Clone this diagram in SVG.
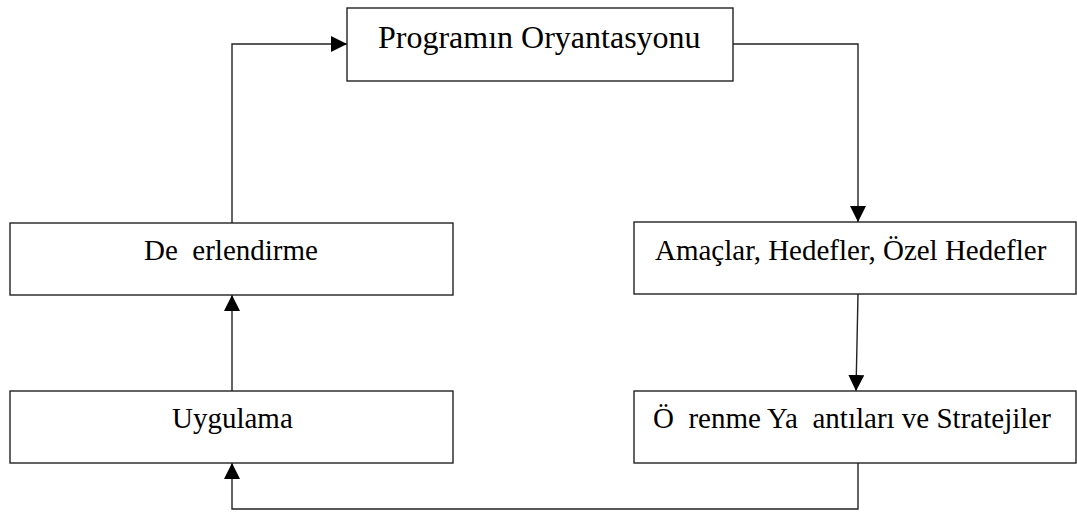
<svg xmlns="http://www.w3.org/2000/svg" width="1077" height="512" viewBox="0 0 1077 512">
  <style>
    .box { fill: #ffffff; stroke: #222222; stroke-width: 1.4; }
    .label { font-family: "Liberation Serif", "Times New Roman", serif; font-size: 29px; fill: #000000; white-space: pre; }
    .title { font-size: 32px; }
    .link { fill: none; stroke: #222222; stroke-width: 1.4; }
  </style>
  <defs>
    <marker id="arrow" markerUnits="userSpaceOnUse" markerWidth="17" markerHeight="17" refX="16" refY="8" orient="auto">
      <path d="M0,0 L16,8 L0,16 Z" fill="#000000"/>
    </marker>
  </defs>

  <rect width="1077" height="512" fill="#ffffff"/>

  <!-- connectors -->
  <g id="connectors">
    <path class="link" d="M232,223 V44 H347" marker-end="url(#arrow)"/>
    <path class="link" d="M733,44 H858 V222" marker-end="url(#arrow)"/>
    <path class="link" d="M858,294 L856,391" marker-end="url(#arrow)"/>
    <path class="link" d="M858,463 V509 H232 V463" marker-end="url(#arrow)"/>
    <path class="link" d="M232,391 V295" marker-end="url(#arrow)"/>
  </g>

  <!-- nodes -->
  <g id="node-oryantasyon">
    <rect class="box" x="347" y="8" width="386" height="73"/>
    <text class="label title" x="378" y="48">Programın Oryantasyonu</text>
  </g>

  <g id="node-degerlendirme">
    <rect class="box" x="10" y="223" width="443" height="72"/>
    <text class="label" x="144" y="260">De  erlendirme</text>
  </g>

  <g id="node-amaclar">
    <rect class="box" x="634" y="222" width="442" height="72"/>
    <text class="label" x="655" y="260">Amaçlar, Hedefler, Özel Hedefler</text>
  </g>

  <g id="node-uygulama">
    <rect class="box" x="10" y="391" width="443" height="72"/>
    <text class="label" x="172" y="428">Uygulama</text>
  </g>

  <g id="node-ogrenme">
    <rect class="box" x="634" y="391" width="442" height="72"/>
    <text class="label" x="653" y="428">Ö  renme Ya  antıları ve Stratejiler</text>
  </g>
</svg>
